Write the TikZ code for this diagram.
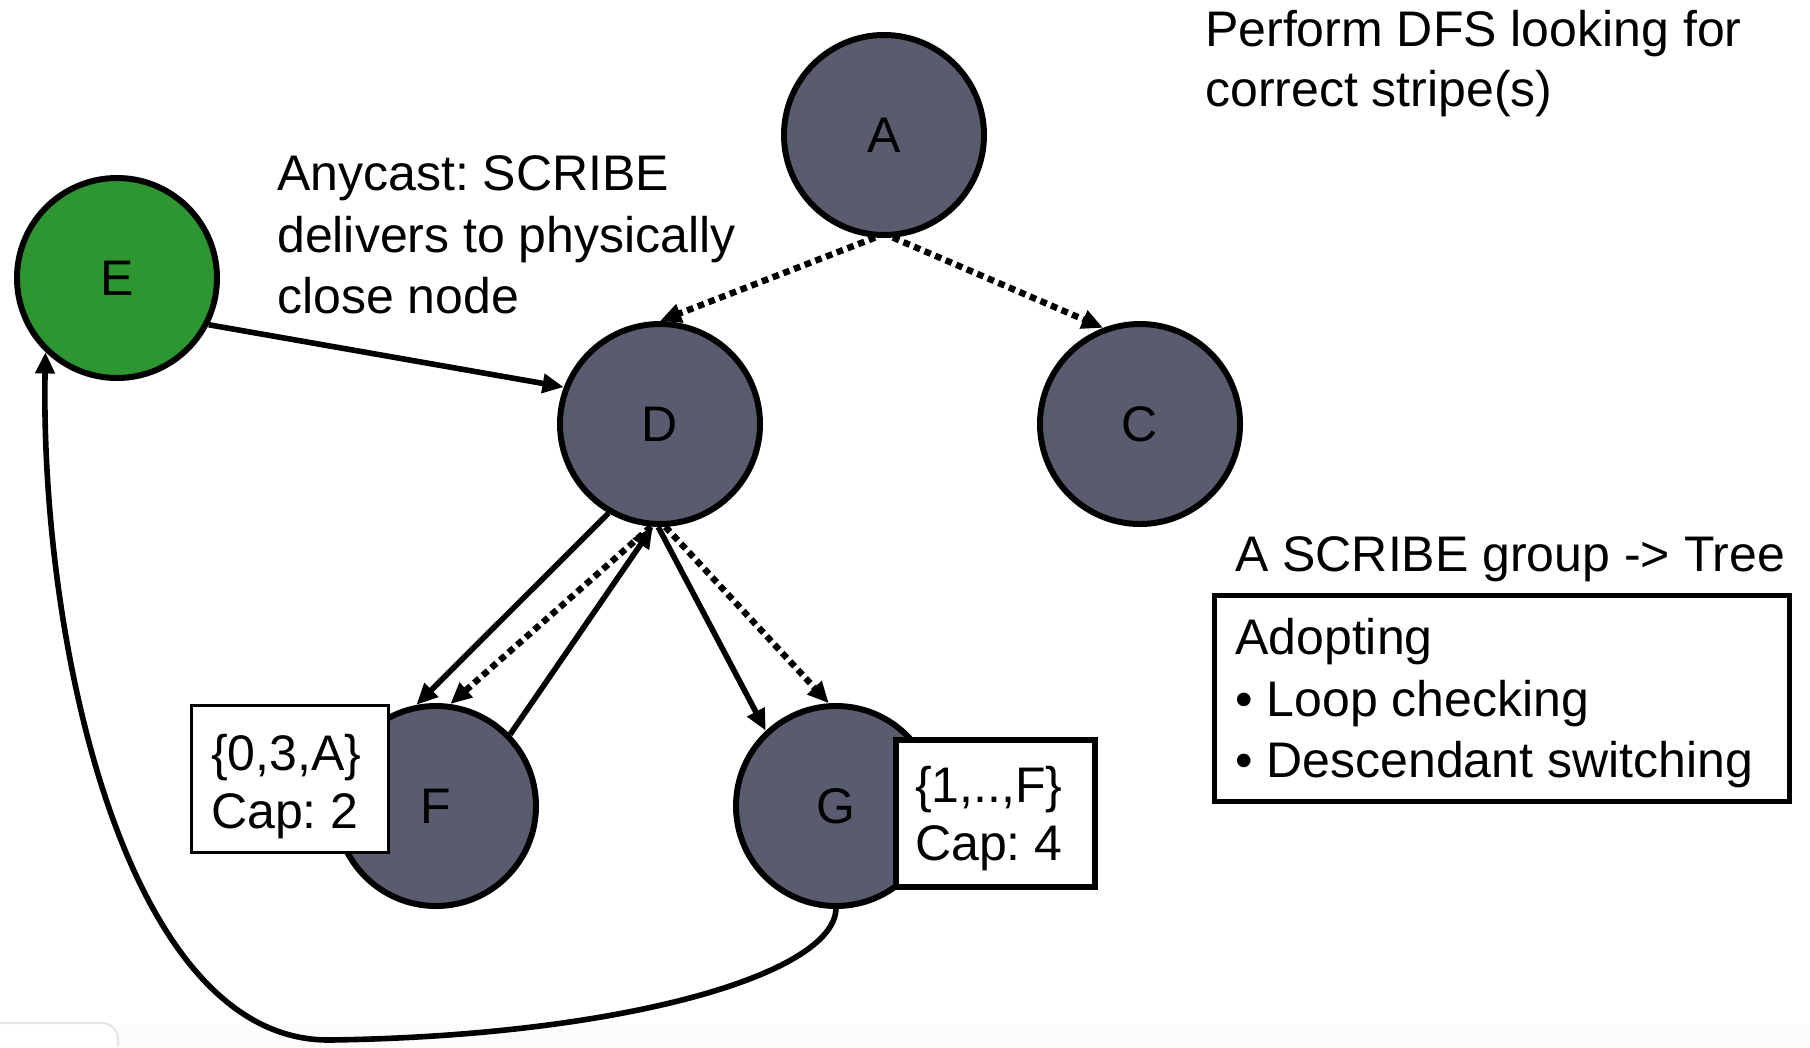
\documentclass[tikz,border=0pt]{standalone}
\usepackage{fontspec}
\setmainfont{Liberation Sans}
\usetikzlibrary{arrows.meta}
\definecolor{nodegray}{HTML}{595C6F}
\definecolor{egreen}{HTML}{2D9631}
\definecolor{bandcol}{HTML}{FDFCFD}
\begin{document}
\frenchspacing
\begin{tikzpicture}[x=0.75pt,y=-0.75pt,
  every node/.style={font=\fontsize{37.5pt}{45pt}\selectfont, inner sep=0pt},
  vert/.style={circle, draw, line width=4.5pt, fill=nodegray, minimum size=150pt},
  arr/.style={line width=4.2pt, -{Triangle[length=16pt,width=14pt]}},
  dotarr/.style={line width=4.8pt, dash pattern=on 5pt off 3.6pt, -{Triangle[length=16pt,width=14pt]}},
  txt/.style={anchor=base west},
  lbl/.style={draw, fill=white, anchor=north west}]
\useasboundingbox (0,0) rectangle (1810,1047);
\fill[white] (0,0) rectangle (1810,1047);
\fill[bandcol] (118,1024) rectangle (1810,1047);
\draw[gray!20, line width=1.5pt, rounded corners=12pt] (0,1023) -- (118,1023) -- (118,1047);

% vertices
\node[vert] (A) at (884,135) {A};
\node[vert, fill=egreen] (E) at (117,278) {E};
\node[vert] (D) at (660,424) {D};
\node[vert] (C) at (1140,424) {C};
\node[vert] (F) at (436,806) {F};
\node[vert] (G) at (836,806) {G};

% connectors
\draw[dotarr] (A.-95) -- (D.90);
\draw[dotarr] (A.-85) -- (C.111);
\draw[arr] (E.-27) -- (D.159);
\draw[arr] (D.-120) -- (F.101);
\draw[dotarr] (D.-95) -- (F.82);
\draw[arr] (F.44) -- (D.-94);
\draw[arr] (D.-91) -- (G.133);
\draw[dotarr] (D.-87) -- (G.94);
\draw[arr] (G.270) .. controls (833,975) and (620,1036) .. (330,1040)
  .. controls (125,1042) and (40,640) .. (E.226);

% labels on F and G
\node[lbl, line width=2pt, minimum width=147.75pt, minimum height=110.25pt] (boxF) at (190,704) {};
\node[txt] (f1) at (211,770) {\{0,3,A\}};
\node[txt] (f2) at (211,828) {Cap: 2};
\node[lbl, line width=4.5pt, minimum width=149.25pt, minimum height=110.25pt] (boxG) at (893,737) {};
\node[txt] (g1) at (915,802) {\{1,..,F\}};
\node[txt] (g2) at (915,860) {Cap: 4};

% texts
\node[txt] (t1) at (1205,46) {Perform DFS looking for};
\node[txt] (t2) at (1205,106) {correct stripe(s)};
\node[txt] (a1) at (277,190) {Anycast: SCRIBE};
\node[txt] (a2) at (277,252) {delivers to physically};
\node[txt] (a3) at (277,313) {close node};
\node[txt] (s1) at (1235,571) {A SCRIBE group -> Tree};
\node[lbl, line width=3.75pt, minimum width=431.25pt, minimum height=154.5pt] (boxR) at (1212,593) {};
\node[txt] (r1) at (1235,654) {Adopting};
\node[txt] (r2) at (1235,716) {\textbullet\ Loop checking};
\node[txt] (r3) at (1235,777) {\textbullet\ Descendant switching};
\end{tikzpicture}
\end{document}
